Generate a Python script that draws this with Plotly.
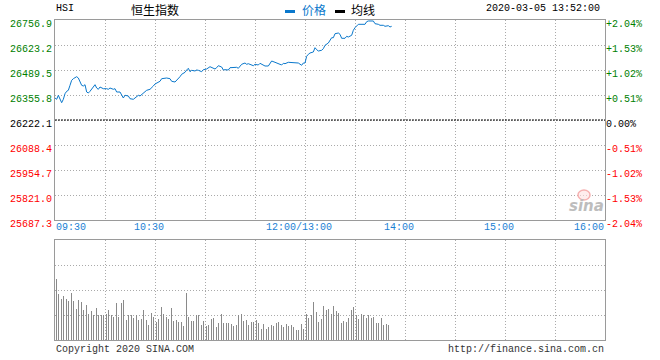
import plotly.graph_objects as go

# ---------------- data ----------------
prev_close = 26222.1
price_ticks = [25687.3, 25821.0, 25954.7, 26088.4, 26222.1, 26355.8, 26489.5, 26623.2, 26756.9]
time_tick_minutes = [0, 60, 150, 210, 270, 330]
time_tick_labels = ["09:30", "10:30", "12:00/13:00", "14:00", "15:00", "16:00"]
grid_minutes = [30, 60, 90, 120, 150, 180, 210, 240, 270, 300]

# trading minutes since 09:30 (12:00 and 13:00 share minute 150)
price_minutes = [0, 1, 2, 3, 4, 5, 6, 7, 8, 9, 10, 11, 12, 13, 14, 15, 16, 17, 18, 19,
                 20, 21, 22, 23, 24, 25, 26, 27, 28, 29, 31, 32, 33, 35, 36, 37, 39, 40, 41, 42,
                 43, 44, 45, 47, 48, 50, 51, 52, 54, 55, 57, 58, 59, 60, 62, 63, 64, 66, 67, 69,
                 70, 72, 73, 74, 75, 76, 78, 79, 80, 81, 82, 84, 85, 86, 88, 89, 90, 91, 93, 94,
                 96, 97, 98, 100, 101, 102, 104, 105, 107, 109, 110, 111, 112, 114, 115, 116, 118, 119, 120, 122,
                 123, 124, 126, 128, 129, 130, 132, 133, 134, 136, 137, 138, 140, 142, 143, 144, 146, 148, 149, 150,
                 151, 152, 153, 155, 156, 157, 158, 160, 161, 162, 164, 166, 167, 168, 170, 171, 172, 174, 175, 176,
                 178, 179, 180, 182, 184, 186, 187, 188, 191, 192, 194, 195, 197, 198, 200, 201, 202]
price_values = [26339.8, 26332.8, 26354.2, 26336.0, 26314.6, 26332.8, 26362.8, 26375.6, 26380.9, 26407.7,
                26434.4, 26443.0, 26446.7, 26453.7, 26446.7, 26429.1, 26407.7, 26403.9, 26410.9, 26371.8,
                26366.5, 26375.6, 26386.3, 26398.6, 26410.9, 26393.2, 26386.3, 26398.6, 26393.2, 26389.5,
                26389.5, 26386.3, 26393.2, 26386.3, 26389.5, 26371.8, 26371.8, 26354.2, 26339.8, 26354.2,
                26350.5, 26350.5, 26336.0, 26332.8, 26339.8, 26354.2, 26350.5, 26357.4, 26375.6, 26380.9,
                26386.3, 26393.2, 26403.9, 26414.6, 26421.6, 26429.1, 26443.0, 26446.7, 26446.7, 26443.0,
                26429.1, 26425.3, 26434.4, 26441.4, 26453.7, 26466.5, 26477.2, 26489.5, 26498.6, 26480.4,
                26487.9, 26484.2, 26489.5, 26487.9, 26480.4, 26491.1, 26494.8, 26494.8, 26507.1, 26501.8,
                26494.8, 26501.8, 26512.5, 26505.5, 26489.5, 26491.1, 26489.5, 26501.8, 26503.9, 26503.9,
                26498.6, 26509.3, 26520.0, 26526.9, 26520.0, 26523.2, 26516.2, 26512.5, 26520.0, 26516.2,
                26525.3, 26520.0, 26510.9, 26510.9, 26525.3, 26537.6, 26530.7, 26526.9, 26523.2, 26516.2,
                26525.3, 26523.2, 26530.7, 26530.7, 26526.9, 26530.7, 26526.9, 26514.7, 26526.9, 26526.9,
                26562.8, 26573.5, 26580.4, 26585.8, 26608.8, 26598.1, 26591.1, 26594.9, 26603.4, 26621.6,
                26633.9, 26662.2, 26662.2, 26683.6, 26687.4, 26680.4, 26659.0, 26659.0, 26669.7, 26666.0,
                26675.1, 26701.8, 26715.7, 26733.9, 26733.9, 26733.9, 26747.8, 26751.6, 26751.6, 26737.1,
                26733.9, 26728.6, 26728.6, 26723.2, 26726.4, 26719.5, 26723.2]

# per-minute volume (relative units, 0-100 scale), minute 1 .. 201
volume_values = [61, 46, 49, 41, 44, 45, 41, 39, 34, 47,
                 39, 32, 31, 40, 43, 38, 30, 50, 35, 26,
                 34, 29, 25, 32, 32, 25, 28, 25, 25, 32,
                 26, 30, 19, 25, 23, 30, 37, 23, 22, 37,
                 40, 23, 20, 25, 33, 25, 22, 25, 25, 20,
                 19, 21, 30, 19, 20, 15, 22, 27, 23, 30,
                 18, 21, 22, 33, 26, 28, 23,
                 21, 28, 32, 19, 15, 20, 18, 27, 18, 14,
                 36, 47, 23, 30, 19, 19, 25, 25, 25, 22,
                 15, 19, 17, 14, 15, 19, 21, 22, 19, 13,
                 17, 20, 26, 17, 15, 17, 17, 15, 16, 14,
                 15, 15, 25, 18, 26, 19, 20, 20, 15, 25,
                 18, 18, 23, 20, 17, 15, 11, 16, 16, 11,
                 13, 15, 15, 14, 20, 17, 18,
                 15, 15, 13, 12, 16, 14, 15, 15, 13, 11, 10, 10, 15, 16, 11, 70,
                 26, 22, 27, 25, 38, 28, 28, 18, 26, 21,
                 34, 29, 30, 31, 30, 26, 34, 26, 29, 27,
                 18, 17, 19, 22, 18, 22, 43, 30, 33, 26,
                 25, 21, 21, 26, 25, 43, 22, 25, 17, 22,
                 23, 19, 17, 17, 21, 22, 15, 22, 16, 15, 20]
volume_minutes = list(range(1, len(volume_values) + 1))

# ---------------- styling ----------------
MONO = "Liberation Mono, DejaVu Sans Mono, monospace"
CJK = "Noto Sans CJK SC, sans-serif"
GREEN = "#008000"
RED = "#ff0000"
BLUE = "#0a78cc"
FRAME = "#9a9a9a"
GRID = "#aaaaaa"


def tick_color(v):
    if abs(v - prev_close) < 1e-6:
        return "#000000"
    return GREEN if v > prev_close else RED


pct_ticks = [(p / prev_close - 1) * 100 for p in price_ticks]
left_text = [f"<span style='color:{tick_color(p)}'>{p:.1f}</span>" for p in price_ticks]
right_text = []
for p, q in zip(price_ticks, pct_ticks):
    s = "0.00%" if abs(q) < 0.005 else f"{q:+.2f}%"
    right_text.append(f"<span style='color:{tick_color(p)}'>{s}</span>")

ymin, ymax = price_ticks[0], price_ticks[-1]
pmin, pmax = (ymin / prev_close - 1) * 100, (ymax / prev_close - 1) * 100
pct_values = [(v / prev_close - 1) * 100 for v in price_values]

fig = go.Figure()
fig.add_trace(go.Bar(x=volume_minutes, y=volume_values, width=0.55,
                     marker=dict(color="#8a8a8a", line=dict(width=0)),
                     xaxis="x2", yaxis="y3", hoverinfo="skip"))
fig.add_trace(go.Scatter(x=price_minutes, y=pct_values, mode="lines",
                         line=dict(width=0, color="rgba(0,0,0,0)"),
                         xaxis="x", yaxis="y2", hoverinfo="skip"))
fig.add_trace(go.Scatter(x=price_minutes, y=price_values, mode="lines",
                         line=dict(color=BLUE, width=1),
                         xaxis="x", yaxis="y", hoverinfo="skip"))

main_bottom = 100 / 320 + 20 / 320  # 0.375
vol_top = 100 / 320

common_x = dict(range=[0, 330], tickvals=grid_minutes, showticklabels=False, ticks="",
                showgrid=True, gridcolor=GRID, griddash="1px,2px", gridwidth=1,
                showline=True, mirror=True, linecolor=FRAME, linewidth=1,
                zeroline=False, fixedrange=True)

fig.update_layout(
    width=660, height=360,
    margin=dict(l=55, r=55, t=20, b=20, autoexpand=False),
    paper_bgcolor="white", plot_bgcolor="white",
    showlegend=False, bargap=0,
    font=dict(family=MONO, size=10, color="#000"),
    xaxis=dict(domain=[0, 1], anchor="y", **common_x),
    xaxis2=dict(domain=[0, 1], anchor="y3", **common_x),
    yaxis=dict(domain=[main_bottom, 1], anchor="x", range=[ymin, ymax],
               tickvals=price_ticks, ticktext=left_text, ticks="",
               tickfont=dict(family=MONO, size=10), ticklabelshift=3,
               showgrid=True, gridcolor=GRID, griddash="1px,2px", gridwidth=1,
               showline=True, mirror=True, linecolor=FRAME, linewidth=1,
               zeroline=False, fixedrange=True, automargin=False),
    yaxis2=dict(overlaying="y", side="right", anchor="x", range=[pmin, pmax],
                tickvals=pct_ticks, ticktext=right_text, ticks="",
                tickfont=dict(family=MONO, size=10), ticklabelshift=3,
                showgrid=False, zeroline=False, showline=False,
                fixedrange=True, automargin=False),
    yaxis3=dict(domain=[0, vol_top], anchor="x2", range=[0, 100],
                tickvals=[25, 50, 75], showticklabels=False, ticks="",
                showgrid=True, gridcolor=GRID, griddash="1px,2px", gridwidth=1,
                showline=True, mirror=True, linecolor=FRAME, linewidth=1,
                zeroline=False, fixedrange=True),
)

# previous close reference line
fig.add_shape(type="line", xref="x", yref="y", x0=0, x1=330, y0=prev_close, y1=prev_close,
              line=dict(color="#000000", width=1, dash="2px,1px"), layer="above")

# time labels
anns = []
for i, (m, lab) in enumerate(zip(time_tick_minutes, time_tick_labels)):
    if i == 0:
        anc, sh = "left", -1
    elif i == len(time_tick_minutes) - 1:
        anc, sh = "right", 1
    else:
        anc, sh = "center", -6
    anns.append(dict(x=m, xref="x", y=main_bottom, yref="paper", text=lab, showarrow=False,
                     xanchor=anc, yanchor="middle", xshift=sh, yshift=-7.5,
                     font=dict(family=MONO, size=10, color="#1a7fd4")))


def px_x(p):
    return (p - 55) / 550


def px_y(p):
    return (340 - p) / 320


anns += [
    dict(x=px_x(54), y=px_y(9), xref="paper", yref="paper", text="HSI", showarrow=False,
         xanchor="left", yanchor="middle", font=dict(family=MONO, size=10, color="#000")),
    dict(x=px_x(154.7), y=px_y(9.5), xref="paper", yref="paper", text="恒生指数", showarrow=False,
         xanchor="center", yanchor="middle", font=dict(family=CJK, size=12, color="#000")),
    dict(x=px_x(300), y=px_y(9.5), xref="paper", yref="paper", text="价格", showarrow=False,
         xanchor="left", yanchor="middle", font=dict(family=CJK, size=12, color=BLUE)),
    dict(x=px_x(349), y=px_y(9.5), xref="paper", yref="paper", text="均线", showarrow=False,
         xanchor="left", yanchor="middle", font=dict(family=CJK, size=12, color="#000")),
    dict(x=px_x(602), y=px_y(9), xref="paper", yref="paper", text="2020-03-05 13:52:00", showarrow=False,
         xanchor="right", yanchor="middle", font=dict(family=MONO, size=10, color="#000")),
    dict(x=px_x(54), y=px_y(349.5), xref="paper", yref="paper", text="Copyright 2020 SINA.COM",
         showarrow=False, xanchor="left", yanchor="middle", font=dict(family=MONO, size=10, color="#333")),
    dict(x=px_x(606), y=px_y(349.5), xref="paper", yref="paper", text="http://finance.sina.com.cn",
         showarrow=False, xanchor="right", yanchor="middle", font=dict(family=MONO, size=10, color="#333")),
    dict(x=px_x(586), y=px_y(206), xref="paper", yref="paper", text="<b><i>sina</i></b>",
         showarrow=False, xanchor="center", yanchor="middle",
         font=dict(family="DejaVu Sans, sans-serif", size=15, color="#bdbdbd")),
]
fig.update_layout(annotations=anns)

# legend swatches and watermark eye
fig.add_shape(type="rect", xref="paper", yref="paper", x0=px_x(285), x1=px_x(295),
              y0=px_y(13), y1=px_y(10), line=dict(width=0), fillcolor=BLUE)
fig.add_shape(type="rect", xref="paper", yref="paper", x0=px_x(335), x1=px_x(345),
              y0=px_y(13), y1=px_y(10), line=dict(width=0), fillcolor="#000")
fig.add_shape(type="circle", xref="paper", yref="paper", x0=px_x(578), x1=px_x(590),
              y0=px_y(200), y1=px_y(190), line=dict(color="#f6b0b0", width=1.5),
              fillcolor="rgba(255,225,225,0.6)")

fig.write_html("out.html", config={"displayModeBar": False, "staticPlot": True},
               post_script="document.body.style.margin='0';document.body.style.overflow='hidden';")
